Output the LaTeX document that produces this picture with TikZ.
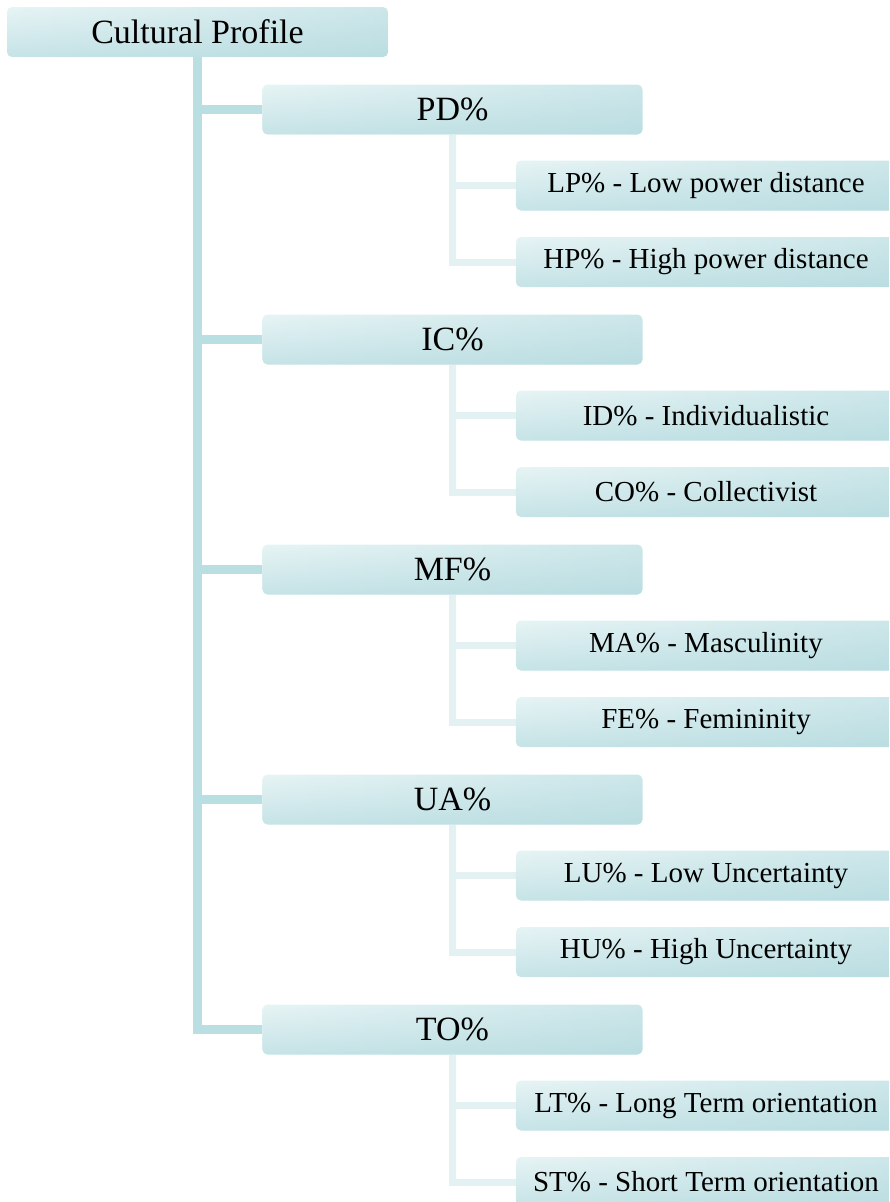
\documentclass[tikz,border=0pt]{standalone}
\usepackage{fontspec}
\setmainfont{Liberation Serif}
\usetikzlibrary{fadings,backgrounds}
\definecolor{boxL}{HTML}{E7F4F5}
\definecolor{boxR}{HTML}{CDE7EA}
\definecolor{boxD}{HTML}{ABD6DB}
\definecolor{trunkC}{HTML}{B9DFE3}
\definecolor{subC}{HTML}{E3F1F3}
\begin{document}
\begin{tikzpicture}[x=1pt,y=-1pt,
  box/.style={rounded corners=5pt, minimum height=50pt, inner sep=0pt,
    left color=boxL, right color=boxR,
    postaction={path fading=north, fill=boxD, fill opacity=0.55}},
  rootbox/.style={box, minimum width=381pt, font=\fontsize{34}{40}\selectfont},
  lone/.style={box, minimum width=380pt, font=\fontsize{34}{40}\selectfont},
  ltwo/.style={box, minimum width=380pt, font=\fontsize{29}{34}\selectfont},
  trunk/.style={draw=trunkC, line width=9pt},
  sub/.style={draw=subC, line width=7pt}]
\useasboundingbox (0,0) rectangle (889,1202);
\clip (0,0) rectangle (889,1202);

\node[rootbox] (root) at (197.5,32) {Cultural Profile};

\node[lone] (PD) at (452.5,109.5) {PD\%};
\node[ltwo] (LP) at (706,185.5) {LP\% - Low power distance};
\node[ltwo] (HP) at (706,262) {HP\% - High power distance};

\node[lone] (IC) at (452.5,339.5) {IC\%};
\node[ltwo] (ID) at (706,415.5) {ID\% - Individualistic};
\node[ltwo] (CO) at (706,492) {CO\% - Collectivist};

\node[lone] (MF) at (452.5,569.5) {MF\%};
\node[ltwo] (MA) at (706,645.5) {MA\% - Masculinity};
\node[ltwo] (FE) at (706,722) {FE\% - Femininity};

\node[lone] (UA) at (452.5,799.5) {UA\%};
\node[ltwo] (LU) at (706,875.5) {LU\% - Low Uncertainty};
\node[ltwo] (HU) at (706,952) {HU\% - High Uncertainty};

\node[lone] (TO) at (452.5,1029.5) {TO\%};
\node[ltwo] (LT) at (706,1105.5) {LT\% - Long Term orientation};
\node[ltwo] (ST) at (706,1182) {ST\% - Short Term orientation};

\begin{scope}[on background layer]
  \draw[trunk] (root.south) -- (root.south |- TO.west) -- (TO.west);
  \foreach \n in {PD,IC,MF,UA}
    \draw[trunk] (root.south |- \n.west) -- (\n.west);
  \foreach \p/\a/\b in {PD/LP/HP, IC/ID/CO, MF/MA/FE, UA/LU/HU, TO/LT/ST} {
    \draw[sub] (\p.south) -- (\p.south |- \b.west) -- (\b.west);
    \draw[sub] (\p.south |- \a.west) -- (\a.west);
  }
\end{scope}
\end{tikzpicture}
\end{document}
